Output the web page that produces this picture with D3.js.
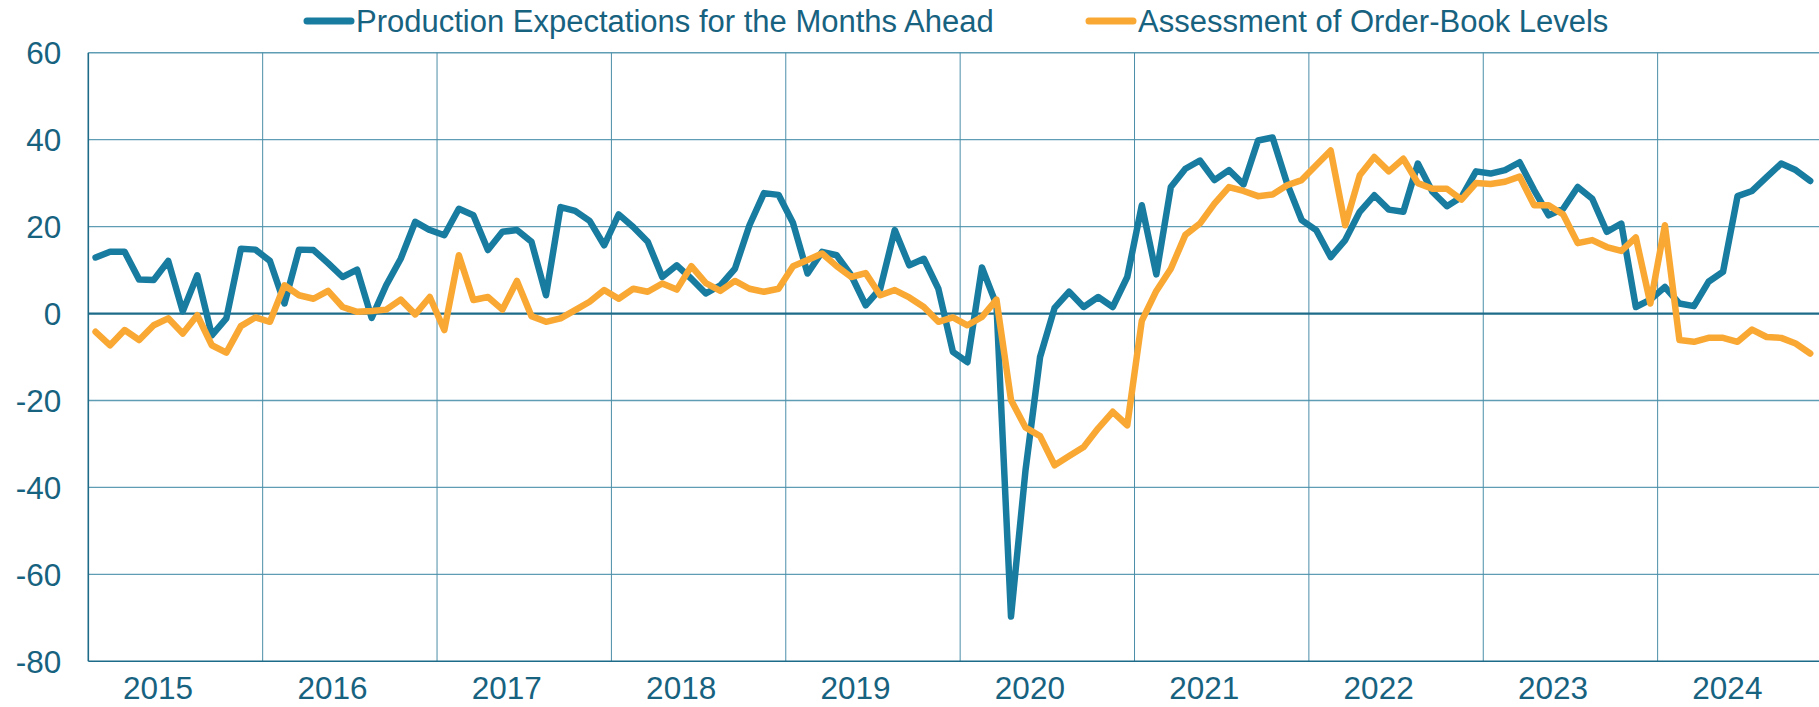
<!DOCTYPE html>
<html>
<head>
<meta charset="utf-8">
<script src="https://cdn.jsdelivr.net/npm/d3@7"></script>
<style>
	html, body { margin: 0; padding: 0; background: #ffffff; overflow: hidden; }
	svg { display: block; font-family: "Liberation Sans", Arial, sans-serif; }
	.tick-label { fill: #17627f; font-size: 31.5px; }
	.legend-label { fill: #17627f; font-size: 31px; }
</style>
</head>
<body>
<svg id="chart"></svg>
<script>
// Monthly balances, Jan 2015 - Nov 2024
const years = [2015, 2016, 2017, 2018, 2019, 2020, 2021, 2022, 2023, 2024];
const yTicks = [60, 40, 20, 0, -20, -40, -60, -80];
const seriesNames = ["Production Expectations for the Months Ahead", "Assessment of Order-Book Levels"];

const production = [
	12.9, 14.2, 14.2, 7.8, 7.7, 12.1, 0.5, 8.8, -5.0, -1.1, 14.9, 14.7,
	12.1, 2.3, 14.7, 14.6, 11.6, 8.4, 10.1, -1.0, 6.5, 12.6, 21.1, 19.2,
	18.0, 24.1, 22.6, 14.6, 18.8, 19.2, 16.5, 4.2, 24.5, 23.6, 21.3, 15.7,
	22.8, 19.9, 16.5, 8.4, 11.1, 8.0, 4.6, 6.5, 10.3, 20.3, 27.7, 27.3,
	20.8, 9.2, 14.2, 13.4, 8.8, 1.9, 5.7, 19.2, 11.1, 12.6, 5.7, -8.8,
	-11.2, 10.6, 2.0, -69.7, -36.0, -10.0, 1.3, 5.0, 1.5, 3.8, 1.5, 8.4,
	24.9, 9.0, 29.1, 33.3, 35.2, 30.7, 33.0, 29.7, 39.8, 40.5, 29.9, 21.5,
	19.2, 13.0, 16.9, 23.4, 27.2, 23.9, 23.4, 34.5, 28.0, 24.7, 26.8, 32.7,
	32.2, 33.0, 34.8, 28.4, 22.6, 24.1, 29.1, 26.4, 18.8, 20.7, 1.5, 3.2,
	6.1, 2.3, 1.7, 7.3, 9.6, 27.0, 28.2, 31.4, 34.5, 33.0, 30.5
];

const orderBook = [
	-4.2, -7.3, -3.8, -6.1, -2.7, -1.1, -4.6, -0.4, -7.3, -9.0, -2.9, -0.9,
	-1.9, 6.5, 4.2, 3.4, 5.2, 1.5, 0.4, 0.6, 0.9, 3.2, -0.2, 3.8,
	-3.8, 13.4, 3.1, 3.8, 0.9, 7.5, -0.6, -1.9, -1.1, 0.8, 2.7, 5.4,
	3.4, 5.7, 5.0, 6.9, 5.5, 10.9, 7.0, 5.2, 7.5, 5.7, 5.0, 5.7,
	10.9, 12.3, 13.8, 10.9, 8.4, 9.3, 4.2, 5.4, 3.7, 1.5, -1.9, -0.9,
	-2.7, -0.8, 3.2, -19.9, -26.2, -28.2, -34.9, -32.8, -30.7, -26.4, -22.6, -25.7,
	-1.7, 5.2, 10.3, 18.1, 20.7, 25.3, 29.1, 28.2, 27.0, 27.4, 29.5, 30.7,
	34.1, 37.5, 20.3, 31.8, 36.0, 32.7, 35.6, 30.0, 28.7, 28.7, 26.2, 30.0,
	29.8, 30.3, 31.5, 24.9, 24.9, 22.8, 16.2, 16.9, 15.3, 14.4, 17.5, 2.3,
	20.3, -6.1, -6.5, -5.6, -5.6, -6.5, -3.7, -5.4, -5.6, -6.9, -9.2
];

const colors = ["#187ca0", "#f9a834"];

class SurveyChart{

	constructor(){
		const svgWidth = 1819;
		const svgHeight = 707;
		// right side runs past the window, like the original crop
		this.margin = {top: 52.7, right: -13, bottom: 45.7, left: 88.3};

		this.width = svgWidth - this.margin.left - this.margin.right;
		this.height = svgHeight - this.margin.top - this.margin.bottom;

		this.svg = d3.select('#chart')
			.attr("width", svgWidth)
			.attr("height", svgHeight);

		this.g = this.svg.append("g")
			.attr("transform", "translate(" + this.margin.left + "," + this.margin.top + ")");
	}

	draw(){
		const months = years.length * 12;
		const x = d3.scaleLinear().domain([0, months]).range([0, this.width]);
		const y = d3.scaleLinear().domain([-80, 60]).range([this.height, 0]);

		// horizontal grid
		this.g.append("g")
			.selectAll("line")
			.data(yTicks.filter(d => d !== 0 && d !== -80))
			.enter().append("line")
				.attr("x1", 0)
				.attr("x2", this.width)
				.attr("y1", d => y(d))
				.attr("y2", d => y(d))
				.style("stroke", "#5e9db4")
				.style("stroke-width", 1.4);

		// vertical grid at year boundaries
		this.g.append("g")
			.selectAll("line")
			.data(years.map((d, i) => i * 12))
			.enter().append("line")
				.attr("x1", d => x(d))
				.attr("x2", d => x(d))
				.attr("y1", 0)
				.attr("y2", this.height)
				.style("stroke", d => d === 0 ? "#1d6b88" : "#4b8ea8")
				.style("stroke-width", d => d === 0 ? 1.6 : 1);

		// zero line and bottom axis
		this.g.append("g")
			.selectAll("line")
			.data([0, -80])
			.enter().append("line")
				.attr("x1", 0)
				.attr("x2", this.width)
				.attr("y1", d => y(d))
				.attr("y2", d => y(d))
				.style("stroke", "#1d6b88")
				.style("stroke-width", d => d === 0 ? 2.2 : 1.6);

		// y labels
		this.g.append("g")
			.selectAll("text")
			.data(yTicks)
			.enter().append("text")
				.attr("class", "tick-label")
				.attr("x", -27)
				.attr("y", d => y(d))
				.attr("dy", "0.36em")
				.attr("text-anchor", "end")
				.text(d => d);

		// year labels
		this.g.append("g")
			.selectAll("text")
			.data(years)
			.enter().append("text")
				.attr("class", "tick-label")
				.attr("x", (d, i) => x(i * 12 + 4.8))
				.attr("y", this.height + 38)
				.attr("text-anchor", "middle")
				.text(d => d);

		// series lines
		const line = d3.line()
			.x((d, i) => x(i + 0.5))
			.y(d => y(d));

		[production, orderBook].forEach((values, k) => {
			this.g.append("path")
				.datum(values)
				.attr("d", line)
				.style("fill", "none")
				.style("stroke", colors[k])
				.style("stroke-width", 6.5)
				.style("stroke-linejoin", "round")
				.style("stroke-linecap", "round");
		});

		this.legend();
	}

	legend(){
		const items = [{x: 304, name: seriesNames[0], color: colors[0]},
			{x: 1086, name: seriesNames[1], color: colors[1]}];

		const g = this.svg.append("g");
		items.forEach(d => {
			g.append("line")
				.attr("x1", d.x + 3)
				.attr("x2", d.x + 47)
				.attr("y1", 21)
				.attr("y2", 21)
				.style("stroke", d.color)
				.style("stroke-width", 7)
				.style("stroke-linecap", "round");
			g.append("text")
				.attr("class", "legend-label")
				.attr("x", d.x + 52)
				.attr("y", 31.5)
				.text(d.name);
		});
	}
}

const chart = new SurveyChart();
chart.draw();
</script>
</body>
</html>
